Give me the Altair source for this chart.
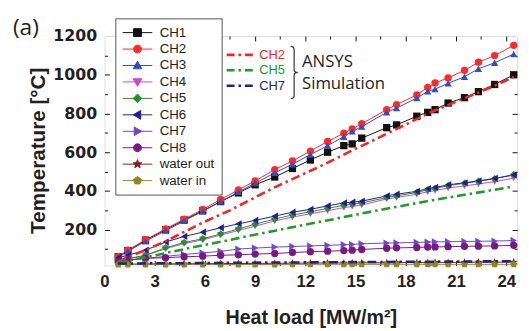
import altair as alt
import pandas as pd

# ---------------- data ----------------
heat_load = [0.82, 1.4, 2.45, 3.65, 4.76, 5.87, 6.94, 8.0, 9.0, 10.17, 11.23, 12.3, 13.33,
             14.3, 14.8, 15.37, 16.86, 17.45, 18.66, 19.31, 19.75, 20.53, 21.51, 22.34, 23.31, 24.45]

ch1 = [60, 92, 146, 200, 250, 298, 345, 390, 432, 472, 516, 560, 600, 634, 643, 673, 727, 741,
       786, 806, 820, 854, 882, 913, 950, 1000]
ch2 = [60, 94, 148, 204, 254, 305, 356, 405, 452, 510, 555, 606, 656, 698, 720, 747, 820, 846,
       896, 935, 958, 984, 1023, 1065, 1099, 1152]
ch3 = [56, 88, 140, 195, 245, 295, 345, 395, 440, 493, 538, 588, 634, 680, 708, 732, 806, 828,
       880, 914, 926, 956, 990, 1031, 1062, 1107]
ch4 = [42, 50, 66, 102, 128, 148, 172, 196, 218, 245, 265, 282, 298, 314, 320, 327, 359, 366,
       383, 396, 402, 415, 426, 436, 448, 466]
ch5 = [42, 50, 68, 106, 134, 153, 178, 204, 228, 255, 276, 292, 310, 326, 332, 338, 366, 375,
       392, 406, 413, 427, 440, 450, 463, 485]
ch6 = [55, 68, 94, 136, 165, 187, 210, 230, 248, 270, 290, 305, 323, 338, 342, 347, 375, 383,
       398, 412, 418, 432, 442, 452, 465, 482]
ch7 = [38, 44, 52, 62, 72, 80, 88, 100, 105, 110, 113, 116, 119, 122, 124, 127, 131, 132,
       134, 136, 137, 138, 139, 140, 141, 144]
ch8 = [35, 42, 52, 55, 60, 63, 68, 70, 74, 77, 82, 86, 89, 92, 94, 98, 104, 106,
       108, 110, 111, 112, 114, 115, 116, 119]
water_out = [22, 22, 23, 23, 24, 24, 25, 25, 26, 26, 27, 27, 28, 28, 28, 29, 29, 30,
             30, 30, 31, 31, 31, 32, 32, 33]
water_in = [20, 20, 20, 20, 20, 20, 20, 20, 20, 20, 21, 21, 21, 21, 21, 21, 21, 21,
            21, 21, 21, 21, 21, 21, 21, 21]

series_names = ["CH1", "CH2", "CH3", "CH4", "CH5", "CH6", "CH7", "CH8", "water out", "water in"]
series_values = [ch1, ch2, ch3, ch4, ch5, ch6, ch7, ch8, water_out, water_in]
series_colors = ["#111111", "#FF2A2A", "#2F4FBF", "#CC47CC", "#23902A", "#1F1F8F",
                 "#7048C8", "#7A1A80", "#8B1A1A", "#8A8A22"]

# ANSYS simulation curves
ansys_names = ["CH2", "CH5", "CH7"]
ansys_colors = ["#FF2020", "#22992B", "#23237F"]
ansys_ch2_x = [0.8, 3.6, 5.9, 7.5, 10.2, 13.2, 14.35, 15.9, 17.5, 19.45, 21.4, 23.35, 24.45]
ansys_ch2_y = [35, 138, 238, 300, 420, 540, 590, 655, 722, 805, 875, 945, 989]
ansys_ch5_x = [0.8, 1.6, 3.6, 5.9, 7.4, 10.2, 13.2, 16.1, 19.45, 24.45]
ansys_ch5_y = [30, 43, 78, 120, 146, 195, 246, 296, 350, 423]
ansys_ch7_x = [0.8, 6.0, 12.0, 18.0, 24.45]
ansys_ch7_y = [25, 28, 31, 34, 37]

# annotation block ("CH2/CH5/CH7 } ANSYS Simulation")
note_labels = ["CH2", "CH5", "CH7"]
note_y = [1103, 1023, 943]
note_text_x = 9.25
note_line_x = [7.3, 8.95]
side_labels = ["ANSYS", "Simulation"]
side_y = [1065, 952]
side_x = 11.8
brace_x = 11.33
brace_y = 1012

X_DOMAIN = [0, 24.65]
Y_DOMAIN = [15, 1200]
x_major = [0, 3, 6, 9, 12, 15, 18, 21, 24]
x_minor = [1.5, 3, 4.5, 6, 7.5, 9, 10.5, 12, 13.5, 15, 16.5, 18, 19.5, 21, 22.5, 24]
y_major = [200, 400, 600, 800, 1000, 1200]
y_minor = [100, 200, 300, 400, 500, 600, 700, 800, 900, 1000, 1100]

# ---------------- shapes ----------------
STAR = [(0, -1), (0.235, -0.324), (0.951, -0.309), (0.380, 0.124), (0.588, 0.809),
        (0, 0.4), (-0.588, 0.809), (-0.380, 0.124), (-0.951, -0.309), (-0.235, -0.324)]
PENTA = [(0, -1), (0.951, -0.309), (0.588, 0.809), (-0.588, 0.809), (-0.951, -0.309)]
TRI_UP = [(0, -1), (1, 0.75), (-1, 0.75)]
TRI_DN = [(0, 1), (1, -0.75), (-1, -0.75)]
TRI_LF = [(-1, 0), (0.75, -1), (0.75, 1)]
TRI_RT = [(1, 0), (-0.75, -1), (-0.75, 1)]
DIAM = [(0, -1), (1, 0), (0, 1), (-1, 0)]
SQ = [(-1, -1), (1, -1), (1, 1), (-1, 1)]


def poly(pts, s):
    return "M" + "L".join(f"{x * s:.3f},{y * s:.3f}" for x, y in pts) + "Z"


def circ(r):
    return f"M{r:.3f},0A{r:.3f},{r:.3f} 0 1,1 {-r:.3f},0A{r:.3f},{r:.3f} 0 1,1 {r:.3f},0Z"


point_shapes = ["square", "circle", "triangle-up", "triangle-down", "diamond",
                "triangle-left", "triangle-right", "circle", poly(STAR, 1.15), poly(PENTA, 1.0)]

# legend symbols: line segment through a marker (legend symbol unit = 7 px)
seg = "M-2.15,0H2.15"
m = 0.57
legend_shapes = [
    seg + poly(SQ, m),
    seg + circ(m),
    seg + poly(TRI_UP, m * 1.1),
    seg + poly(TRI_DN, m * 1.1),
    seg + poly(DIAM, m * 1.1),
    seg + poly(TRI_LF, m * 1.1),
    seg + poly(TRI_RT, m * 1.1),
    seg + circ(m),
    seg + poly(STAR, m * 1.15),
    seg + poly(PENTA, m * 1.05),
]

BRACE = "M-0.13,-1Q0,-1 0,-0.88L0,-0.12Q0,0 0.14,0Q0,0 0,0.12L0,0.88Q0,1 -0.13,1"

# ---------------- tables ----------------
rows = []
for name, vals, col, shp in zip(series_names, series_values, series_colors, point_shapes):
    for x, y in zip(heat_load, vals):
        rows.append({"load": x, "temp": y, "series": name, "hex": col, "shp": shp})
df = pd.DataFrame(rows)

arows = []
for name, col, xs_, ys_ in zip(ansys_names, ansys_colors,
                               [ansys_ch2_x, ansys_ch5_x, ansys_ch7_x],
                               [ansys_ch2_y, ansys_ch5_y, ansys_ch7_y]):
    for x, y in zip(xs_, ys_):
        arows.append({"load": x, "temp": y, "series": name, "hex": col})
df_ansys = pd.DataFrame(arows)

df_note = pd.DataFrame({"label": note_labels, "temp": note_y, "hex": ansys_colors,
                        "load": [note_text_x] * 3,
                        "x0": [note_line_x[0]] * 3, "x1": [note_line_x[1]] * 3})
df_side = pd.DataFrame({"label": side_labels, "temp": side_y, "load": [side_x] * 2})
df_brace = pd.DataFrame({"load": [brace_x], "temp": [brace_y]})

W, H = 419, 233
xs = alt.Scale(domain=X_DOMAIN, nice=False, zero=False)
ys = alt.Scale(domain=Y_DOMAIN, nice=False, zero=False)
tick_x = {"condition": {"test": "datum.value % 3 === 0", "value": 5}, "value": 3}
tick_y = {"condition": {"test": "datum.value % 200 === 0", "value": 5}, "value": 3}
TXT = "#231F20"

axis_x_main = alt.Axis(orient="bottom", values=x_major, title="Heat load [MW/m²]", ticks=False,
                       tickSize=0, domain=False, grid=False, labelFont="Liberation Sans",
                       labelFontWeight="bold", labelFontSize=17, labelColor=TXT, labelPadding=8,
                       labelFlush=False, labelOverlap=False, format="d",
                       titleFont="Liberation Sans",
                       titleFontSize=20, titleFontWeight="bold", titleColor=TXT, titleY=59,
                       titleBaseline="alphabetic")
axis_y_main = alt.Axis(orient="left", values=y_major, title="Temperature [°C]", ticks=False,
                       tickSize=0, domain=False, grid=False, labelFont="DejaVu Sans",
                       labelFontWeight="bold", labelFontSize=16, labelColor=TXT, labelPadding=8,
                       labelFlush=False, labelOverlap=False, format="d",
                       titleFont="Liberation Sans",
                       titleFontSize=21, titleFontWeight="bold", titleColor=TXT, titleAngle=270,
                       titleX=-61, titleY=116, titleBaseline="alphabetic", titleAlign="center")


def tick_axis(orient, values, offset, size):
    return alt.Axis(orient=orient, values=values, offset=offset, labels=False, domain=False,
                    grid=False, title=None, ticks=True, tickSize=size, tickColor="#111",
                    tickWidth=1)


base = alt.Chart(df)

lines = base.mark_line(strokeWidth=1).encode(
    x=alt.X("load:Q", scale=xs, axis=axis_x_main),
    y=alt.Y("temp:Q", scale=ys, axis=axis_y_main),
    color=alt.Color("hex:N", scale=None),
    detail="series:N",
    order="load:Q",
)

points = base.mark_point(filled=True, size=55, opacity=1).encode(
    x=alt.X("load:Q", scale=xs, axis=tick_axis("bottom", x_minor, -H, tick_x)),
    y=alt.Y("temp:Q", scale=ys, axis=tick_axis("left", y_minor, -W, tick_y)),
    color=alt.Color("hex:N", scale=None),
    shape=alt.Shape("shp:N", scale=None),
)

ansys = alt.Chart(df_ansys).mark_line(strokeWidth=2.6, strokeDash=[9, 4, 2.5, 4]).encode(
    x=alt.X("load:Q", scale=xs, axis=tick_axis("top", x_minor, -H, tick_x)),
    y=alt.Y("temp:Q", scale=ys, axis=tick_axis("right", y_minor, -W, tick_y)),
    color=alt.Color("hex:N", scale=None),
    detail="series:N",
    order="load:Q",
)

note_lines = alt.Chart(df_note).mark_rule(strokeWidth=2.6, strokeDash=[8, 4, 2.5, 4]).encode(
    x=alt.X("x0:Q", scale=xs, axis=None),
    x2="x1:Q",
    y=alt.Y("temp:Q", scale=ys, axis=None),
    color=alt.Color("hex:N", scale=None),
)
note_text = alt.Chart(df_note).mark_text(align="left", baseline="middle",
                                         font="Liberation Sans", fontSize=13).encode(
    x=alt.X("load:Q", scale=xs, axis=None),
    y=alt.Y("temp:Q", scale=ys, axis=None),
    text="label:N",
    color=alt.Color("hex:N", scale=None),
)
side_text = alt.Chart(df_side).mark_text(align="left", baseline="middle", font="Open Sans",
                                         fontSize=17, color="#231F20").encode(
    x=alt.X("load:Q", scale=xs, axis=None),
    y=alt.Y("temp:Q", scale=ys, axis=None),
    text="label:N",
)
brace = alt.Chart(df_brace).mark_point(shape=BRACE, size=2800, filled=False, strokeWidth=1.2,
                                        color="#333333", opacity=1).encode(
    x=alt.X("load:Q", scale=xs, axis=None),
    y=alt.Y("temp:Q", scale=ys, axis=None),
)


def leg():
    return alt.Legend(orient="none", legendX=11, legendY=-18, title=None,
                      labelFont="Liberation Sans", labelFontSize=13.5, labelColor=TXT,
                      symbolSize=196, symbolStrokeWidth=1, rowPadding=2.7, padding=7,
                      strokeColor="#555555", fillColor="white", labelOffset=15,
                      symbolOffset=8, labelLimit=200)


legend_layer = base.mark_point(filled=True, opacity=1, strokeWidth=1).encode(
    x=alt.X("load:Q", scale=xs, axis=None),
    y=alt.Y("temp:Q", scale=ys, axis=None),
    fill=alt.Fill("series:N", scale=alt.Scale(domain=series_names, range=series_colors),
                  legend=leg()),
    stroke=alt.Stroke("series:N", scale=alt.Scale(domain=series_names, range=series_colors),
                      legend=leg()),
    shape=alt.Shape("series:N", scale=alt.Scale(domain=series_names, range=legend_shapes),
                    legend=leg()),
).transform_filter("datum.load < -100")

chart = alt.layer(
    lines, points, ansys, note_lines, note_text, side_text, brace, legend_layer
).resolve_axis(
    x="independent", y="independent"
).resolve_scale(
    x="shared", y="shared"
).properties(
    width=W, height=H,
    autosize=alt.AutoSizeParams(type="none"),
    padding={"left": 98, "top": 26, "right": 4, "bottom": 62},
    title=alt.Title("(a)", anchor="start", frame="group", font="Open Sans", fontSize=23,
                    fontWeight="normal", color=TXT, dx=-93, dy=44, offset=4,
                    baseline="alphabetic"),
).configure_view(
    stroke="#111111", strokeWidth=1.2
).configure(background="white")

chart.save("out.html", embed_options={"renderer": "svg", "actions": False})
